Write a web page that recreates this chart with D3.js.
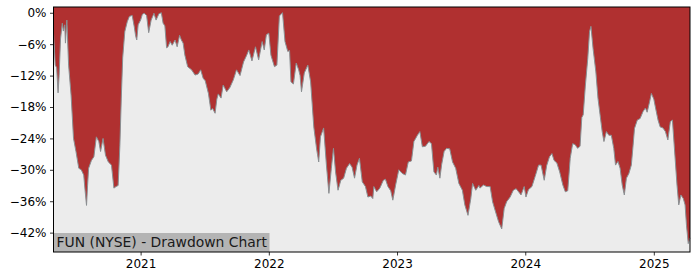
<!DOCTYPE html>
<html>
<head>
<meta charset="utf-8">
<script src="https://cdn.jsdelivr.net/npm/d3@7"></script>
<style>
  body { margin: 0; background: #fff; }
  text { font-family: "DejaVu Sans", sans-serif; }
</style>
</head>
<body>
<svg id="chart" width="700" height="280"></svg>
<script>
var title = "FUN (NYSE) - Drawdown Chart";

var dates = [
  "2020-04-28","2020-05-03","2020-05-07","2020-05-11","2020-05-14","2020-05-18","2020-05-23","2020-05-26","2020-05-30","2020-06-01",
  "2020-06-05","2020-06-10","2020-06-17","2020-06-24","2020-07-01","2020-07-09","2020-07-16","2020-07-23","2020-07-27","2020-07-31",
  "2020-08-03","2020-08-06","2020-08-14","2020-08-21","2020-08-28","2020-09-04","2020-09-09","2020-09-16","2020-09-23","2020-10-01",
  "2020-10-10","2020-10-17","2020-10-23","2020-10-29","2020-11-03","2020-11-07","2020-11-11","2020-11-17","2020-11-24","2020-11-30",
  "2020-12-08","2020-12-14","2020-12-18","2020-12-21","2020-12-25","2021-01-01","2021-01-06","2021-01-11","2021-01-18","2021-01-24",
  "2021-01-31","2021-02-08","2021-02-14","2021-02-22","2021-03-01","2021-03-06","2021-03-11","2021-03-16","2021-03-20","2021-03-26",
  "2021-04-01","2021-04-09","2021-04-15","2021-04-22","2021-04-27","2021-05-02","2021-05-07","2021-05-15","2021-05-26","2021-06-05",
  "2021-06-14","2021-06-21","2021-06-28","2021-07-04","2021-07-13","2021-07-20","2021-07-25","2021-08-01","2021-08-06","2021-08-10",
  "2021-08-18","2021-08-24","2021-09-03","2021-09-12","2021-09-22","2021-10-01","2021-10-11","2021-10-21","2021-10-30","2021-11-05",
  "2021-11-14","2021-11-24","2021-12-03","2021-12-13","2021-12-19","2021-12-25","2022-01-01","2022-01-07","2022-01-17","2022-01-24",
  "2022-01-31","2022-02-09","2022-02-16","2022-02-24","2022-03-01","2022-03-05","2022-03-12","2022-03-20","2022-03-27","2022-03-31",
  "2022-04-04","2022-04-12","2022-04-22","2022-04-30","2022-05-09","2022-05-17","2022-05-23","2022-05-28","2022-06-06","2022-06-14",
  "2022-06-21","2022-06-28","2022-07-04","2022-07-10","2022-07-17","2022-07-25","2022-08-02","2022-08-10","2022-08-19","2022-08-26",
  "2022-09-02","2022-09-09","2022-09-16","2022-09-24","2022-10-03","2022-10-10","2022-10-18","2022-10-24","2022-10-27","2022-11-04",
  "2022-11-13","2022-11-23","2022-11-29","2022-12-06","2022-12-14","2022-12-20","2022-12-28","2023-01-06","2023-01-16","2023-01-25",
  "2023-02-02","2023-02-11","2023-02-18","2023-02-28","2023-03-07","2023-03-14","2023-03-23","2023-04-02","2023-04-09","2023-04-16",
  "2023-04-23","2023-04-27","2023-05-03","2023-05-08","2023-05-15","2023-05-22","2023-05-31","2023-06-08","2023-06-17","2023-06-26",
  "2023-07-06","2023-07-13","2023-07-22","2023-07-30","2023-08-04","2023-08-13","2023-08-22","2023-08-25","2023-09-04","2023-09-13",
  "2023-09-23","2023-09-30","2023-10-07","2023-10-17","2023-10-26","2023-11-02","2023-11-09","2023-11-19","2023-11-28","2023-12-06",
  "2023-12-13","2023-12-20","2023-12-29","2024-01-03","2024-01-10","2024-01-20","2024-01-29","2024-02-08","2024-02-15","2024-02-24",
  "2024-03-02","2024-03-10","2024-03-17","2024-03-23","2024-03-31","2024-04-08","2024-04-17","2024-04-24","2024-05-01","2024-05-08",
  "2024-05-15","2024-05-22","2024-05-29","2024-06-05","2024-06-10","2024-06-14","2024-06-20","2024-06-27","2024-07-02","2024-07-06",
  "2024-07-12","2024-07-20","2024-07-26","2024-08-01","2024-08-07","2024-08-12","2024-08-19","2024-08-26","2024-09-02","2024-09-09",
  "2024-09-14","2024-09-21","2024-09-27","2024-10-03","2024-10-09","2024-10-15","2024-10-22","2024-10-29","2024-11-03","2024-11-07",
  "2024-11-15","2024-11-23","2024-12-01","2024-12-08","2024-12-13","2024-12-20","2024-12-25","2025-01-01","2025-01-06","2025-01-13",
  "2025-01-19","2025-01-27","2025-02-03","2025-02-10","2025-02-17","2025-02-23","2025-03-02","2025-03-08","2025-03-13","2025-03-19",
  "2025-03-26","2025-03-31","2025-04-04","2025-04-09","2025-04-14"
];

var drawdown = [
  -3.9,-10,-10.5,-15.3,-12,-5,-2,-3.5,-2.3,-5.8,
  -1.4,-10,-15.7,-24,-26.5,-29.7,-30,-31,-34,-36.8,
  -33,-29.7,-28.2,-27.5,-23.7,-24.6,-26.5,-24,-27.2,-28.5,
  -29.1,-33.5,-33.2,-33,-25.3,-16.3,-8.6,-3.6,-1.7,-0.7,
  -0.5,-2.7,-4.5,-5.2,-2.3,-1.4,-0.3,-0.1,-0.5,-3.8,
  -1.4,-0.1,-1.4,-0.2,0,-2,-2.5,-6.7,-6.5,-5.5,
  -6.2,-5.2,-6.5,-4.3,-5.2,-5.8,-8.1,-10.3,-10.9,-11.9,
  -11.7,-10.9,-12.5,-13,-15.4,-18.6,-18.3,-19.2,-16.5,-15.5,
  -16.3,-13.8,-15.1,-14.3,-12.8,-10.9,-12,-9.4,-8.1,-7.1,
  -9.2,-6.5,-9,-5.5,-7.1,-4.2,-3.9,-8.1,-10.3,-10,
  -0.6,0,-5.5,-7.4,-7.2,-13.2,-13.6,-9.6,-10.9,-12,
  -15.1,-11.5,-10,-13.2,-21.8,-26,-28.5,-23.7,-22,-29.1,
  -34.5,-29.7,-25.9,-30.4,-33.9,-32,-31.6,-29.7,-28.8,-29.5,
  -31.6,-29.1,-27.8,-32.3,-33.2,-35.2,-35,-35.5,-33.2,-34.2,
  -33.5,-32,-31.8,-33.2,-34,-35.8,-32.9,-30,-30.7,-31,
  -28.5,-28.3,-24.6,-23.4,-22.7,-25.6,-25.5,-24.6,-25,-30.4,
  -31,-29.5,-31.6,-29,-26.5,-25.9,-26,-28.5,-29.7,-32.6,
  -33.9,-36.7,-38.7,-35.5,-32.6,-33.9,-33,-33.5,-32.9,-33.2,
  -33.2,-36.1,-37.7,-39.9,-41.3,-37.4,-36.1,-35.2,-33.9,-33.6,
  -34.2,-34.8,-33.2,-35.2,-33.8,-33.2,-31.3,-29.1,-29.1,-32,
  -29.2,-27.5,-26.9,-28.2,-28.7,-30.4,-32.9,-34.2,-34,-27.8,
  -25,-25.2,-25.9,-25.5,-20,-19.5,-14,-8.7,-3.6,-2.6,
  -6.8,-11.3,-16.3,-19.5,-22.7,-24.6,-22.7,-23.4,-23.4,-25.9,
  -29.1,-28.4,-29.7,-32.9,-34.8,-31.6,-30.7,-29.1,-25.3,-22.1,
  -20.5,-20.2,-18.9,-18.2,-19,-17,-15.4,-16.5,-18.2,-20.5,
  -21.8,-22,-22.7,-24.3,-20.8,-20.5,-27.2,-32.9,-36.7,-34.8,
  -35.5,-36.7,-40.6,-44.1,-43
];

var yTicks = [0, -6, -12, -18, -24, -30, -36, -42];
var yearTicks = ["2021-01-01","2022-01-01","2023-01-01","2024-01-01","2025-01-01"];

var svg = d3.select('#chart');
var margin = {top: 7, right: 10, bottom: 28, left: 53.5};
var width = +svg.attr('width') - margin.left - margin.right;
var height = +svg.attr('height') - margin.top - margin.bottom;

var parse = d3.timeParse('%Y-%m-%d');
var data = dates.map(function(d, i) { return {date: parse(d), v: drawdown[i]}; });

var x = d3.scaleTime()
  .domain(d3.extent(data, function(d) { return d.date; }))
  .range([0, width]);
var y = d3.scaleLinear()
  .domain([-45.7, 1.1])
  .range([height, 0]);

var g = svg.append('g').attr('transform', `translate(${margin.left},${margin.top})`);

// red background = drawdown region
g.append('rect')
  .attr('width', width)
  .attr('height', height)
  .attr('fill', '#b03030');

var area = d3.area()
  .x(function(d) { return x(d.date); })
  .y0(height)
  .y1(function(d) { return y(d.v); });

g.append('path')
  .datum(data)
  .attr('d', area)
  .attr('fill', '#ececec');

var line = d3.line()
  .x(function(d) { return x(d.date); })
  .y(function(d) { return y(d.v); });

g.append('path')
  .datum(data)
  .attr('d', line)
  .attr('fill', 'none')
  .attr('stroke', '#8a8f92')
  .attr('stroke-width', 1);

// title box bottom-left
var titleG = g.append('g');
titleG.append('rect')
  .attr('x', 0)
  .attr('y', height - 19)
  .attr('width', 216)
  .attr('height', 19)
  .attr('fill', '#b4b4b4');
titleG.append('text')
  .attr('x', 3)
  .attr('y', height - 5.5)
  .attr('font-size', '13.9px')
  .attr('fill', '#1a1a1a')
  .text(title);

// axes
var yAxis = d3.axisLeft(y)
  .tickValues(yTicks)
  .tickSize(3.5)
  .tickPadding(3.5)
  .tickFormat(function(d) { return (d < 0 ? '\u2212' + (-d) : d) + '%'; });

var xAxis = d3.axisBottom(x)
  .tickValues(yearTicks.map(parse))
  .tickSize(3.5)
  .tickPadding(3.5)
  .tickFormat(d3.timeFormat('%Y'));

var ya = g.append('g').call(yAxis);
var xa = g.append('g').attr('transform', `translate(0,${height})`).call(xAxis);

[ya, xa].forEach(function(a) {
  a.select('.domain').remove();
  a.selectAll('text').attr('font-size', '12px').attr('fill', '#000').attr('font-family', 'DejaVu Sans');
  a.selectAll('line').attr('stroke', '#000').attr('stroke-width', 0.8);
});

// frame
g.append('rect')
  .attr('width', width)
  .attr('height', height)
  .attr('fill', 'none')
  .attr('stroke', '#000')
  .attr('stroke-width', 1);
</script>
</body>
</html>
